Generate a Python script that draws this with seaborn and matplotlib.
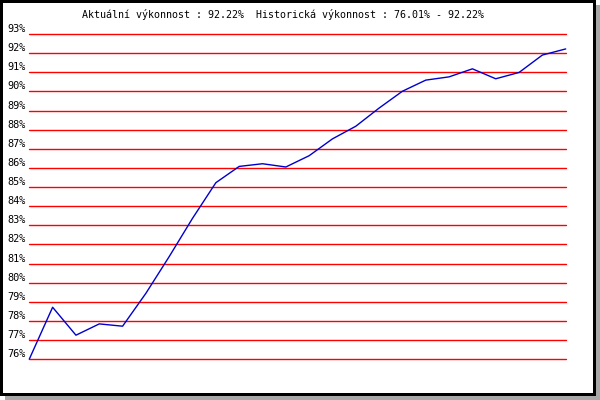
import pandas as pd
import matplotlib
matplotlib.use("Agg")
import matplotlib.pyplot as plt
import seaborn as sns
from matplotlib.patches import Rectangle

# values (percent)
vykon = [76.01, 78.72, 77.26, 77.85, 77.73, 79.45, 81.37, 83.37,
         85.23, 86.08, 86.22, 86.05, 86.64, 87.52, 88.18, 89.13,
         90.01, 90.59, 90.76, 91.18, 90.66, 90.99, 91.90, 92.22]
body = list(range(len(vykon)))
y_ticks = list(range(76, 94))
y_labels = [f"{v}%" for v in y_ticks]
titulek = "Aktuální výkonnost : 92.22%  Historická výkonnost : 76.01% - 92.22%"

df = pd.DataFrame({"bod": body, "vykon": vykon})

sns.set_style("white")
plt.rcParams["font.family"] = ["DejaVu Sans Mono"]
plt.rcParams["text.color"] = "black"
plt.rcParams["ytick.color"] = "black"

fig = plt.figure(figsize=(6, 4), dpi=100)
W, H = 600.0, 400.0

# shadow + black frame
fig.patches.append(Rectangle((5 / W, 0), 1 - 5 / W, 1 - 5 / H, transform=fig.transFigure,
                             facecolor="#a8a8a8", edgecolor="none", zorder=-3))
fig.patches.append(Rectangle((0, 4 / H), 596 / W, 1 - 4 / H, transform=fig.transFigure,
                             facecolor="black", edgecolor="none", zorder=-2))
fig.patches.append(Rectangle((3 / W, 7 / H), 590 / W, 1 - 10 / H, transform=fig.transFigure,
                             facecolor="white", edgecolor="none", zorder=-1))

ax = fig.add_axes([29.3 / W, 40.7 / H, 536.4 / W, 325.3 / H])
ax.set_zorder(2)
ax.patch.set_alpha(0)

for t in y_ticks:
    ax.axhline(t, color="#ff0000", lw=1.0, zorder=1, clip_on=False)

sns.lineplot(data=df, x="bod", y="vykon", color="#0000cc", lw=1.0, ax=ax, zorder=3, clip_on=False)

ax.set_xlim(0, len(vykon) - 1)
ax.set_ylim(76, 93)
ax.set_xticks([])
ax.set_yticks(y_ticks)
ax.set_yticklabels(y_labels, fontsize=7.4, va="bottom", color="black")
ax.tick_params(axis="y", length=0, pad=2.5)
ax.set_xlabel("")
ax.set_ylabel("")
for s in ax.spines.values():
    s.set_visible(False)

fig.text(283 / W, 1 - 14 / H, titulek, ha="center", va="center", fontsize=7.2,
         color="black", zorder=5)

fig.savefig("out.png", dpi=100)
